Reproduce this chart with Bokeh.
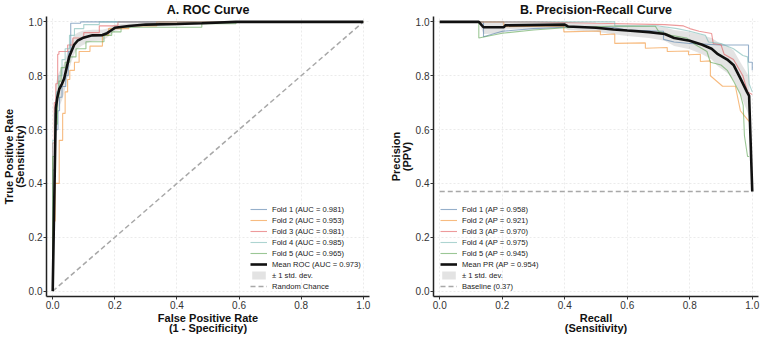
from bokeh.plotting import figure
from bokeh.layouts import row
from bokeh.models import (Legend, LegendItem, Range1d, FixedTicker, Title,
                          NumeralTickFormatter)
from bokeh.embed import file_html
from bokeh.resources import INLINE

# ---------------- ROC data (5-fold cross-validation) ----------------
roc_fold_labels = ["Fold 1 (AUC = 0.981)", "Fold 2 (AUC = 0.953)", "Fold 3 (AUC = 0.981)",
                   "Fold 4 (AUC = 0.985)", "Fold 5 (AUC = 0.965)"]

roc_fpr_1 = [0, 0, 0.008, 0.008, 0.017, 0.017, 0.022, 0.022, 0.03, 0.03, 0.042, 0.042, 0.05, 0.05,
             0.058, 0.058, 0.09, 0.09, 1.0]
roc_tpr_1 = [0, 0.45, 0.45, 0.60, 0.60, 0.67, 0.67, 0.72, 0.72, 0.76, 0.76, 0.80, 0.80, 0.89,
             0.89, 0.995, 0.995, 1.0, 1.0]

roc_fpr_2 = [0, 0, 0.008, 0.008, 0.021, 0.021, 0.032, 0.032, 0.04, 0.04, 0.048, 0.048, 0.055, 0.055,
             0.07, 0.07, 0.085, 0.085, 0.12, 0.12, 0.16, 0.16, 0.18, 0.18, 0.245, 0.245, 0.335, 0.335, 1.0]
roc_tpr_2 = [0, 0.26, 0.26, 0.40, 0.40, 0.56, 0.56, 0.66, 0.66, 0.74, 0.74, 0.786, 0.786, 0.82,
             0.82, 0.85, 0.85, 0.89, 0.89, 0.91, 0.91, 0.95, 0.95, 0.975, 0.975, 0.985, 0.985, 1.0, 1.0]

roc_fpr_3 = [0, 0, 0.005, 0.005, 0.01, 0.01, 0.016, 0.016, 0.02, 0.02, 0.048, 0.048, 0.065, 0.065,
             0.1, 0.1, 0.15, 0.15, 0.21, 0.21, 1.0]
roc_tpr_3 = [0, 0.55, 0.55, 0.70, 0.70, 0.77, 0.77, 0.88, 0.88, 0.89, 0.89, 0.914, 0.914, 0.94,
             0.94, 0.96, 0.96, 0.985, 0.985, 1.0, 1.0]

roc_fpr_4 = [0, 0, 0.006, 0.006, 0.012, 0.012, 0.02, 0.02, 0.03, 0.03, 0.04, 0.04, 0.054, 0.054,
             0.07, 0.07, 0.1, 0.1, 0.15, 0.15, 1.0]
roc_tpr_4 = [0, 0.56, 0.56, 0.66, 0.66, 0.74, 0.74, 0.80, 0.80, 0.86, 0.86, 0.90, 0.90, 0.95,
             0.95, 0.975, 0.975, 0.99, 0.99, 1.0, 1.0]

roc_fpr_5 = [0, 0, 0.008, 0.008, 0.015, 0.015, 0.02, 0.02, 0.027, 0.027, 0.04, 0.04, 0.055, 0.055,
             0.075, 0.075, 0.107, 0.107, 0.165, 0.165, 0.19, 0.19, 0.22, 0.22, 0.48, 0.48, 0.59, 0.59, 1.0]
roc_tpr_5 = [0, 0.50, 0.50, 0.62, 0.62, 0.72, 0.72, 0.78, 0.78, 0.83, 0.83, 0.85, 0.85, 0.87,
             0.87, 0.90, 0.90, 0.926, 0.926, 0.95, 0.95, 0.963, 0.963, 0.98, 0.98, 0.993, 0.993, 1.0, 1.0]

roc_mean_fpr = [0, 0.0101, 0.015, 0.021, 0.03, 0.037, 0.045, 0.053, 0.06, 0.069, 0.08, 0.096, 0.11,
                0.128, 0.16, 0.175, 0.19, 0.2, 0.245, 0.3, 0.4, 0.48, 0.59, 1.0]
roc_mean_tpr = [0, 0.68, 0.72, 0.75, 0.77, 0.79, 0.83, 0.87, 0.89, 0.915, 0.93, 0.94, 0.945,
                0.95, 0.951, 0.958, 0.97, 0.978, 0.985, 0.99, 0.992, 0.995, 1.0, 1.0]
roc_std_tpr = [0, 0.09, 0.075, 0.065, 0.06, 0.055, 0.05, 0.045, 0.04, 0.035, 0.03, 0.027, 0.024,
               0.021, 0.02, 0.017, 0.014, 0.012, 0.009, 0.007, 0.006, 0.005, 0.0, 0.0]
roc_mean_label = "Mean ROC (AUC = 0.973)"

# ---------------- Precision-Recall data ----------------
pr_fold_labels = ["Fold 1 (AP = 0.958)", "Fold 2 (AP = 0.921)", "Fold 3 (AP = 0.970)",
                  "Fold 4 (AP = 0.975)", "Fold 5 (AP = 0.945)"]

pr_rec_1 = [0, 0.14, 0.14, 0.2, 0.3, 0.4, 0.55, 0.6, 0.716, 0.716, 0.75, 0.8, 0.9, 0.988, 0.988, 1.0, 1.0]
pr_prec_1 = [1, 1, 0.945, 0.965, 0.975, 0.98, 0.98, 0.97, 0.965, 0.935, 0.925, 0.92, 0.914, 0.914,
             0.85, 0.85, 0.82]

pr_rec_2 = [0, 0.205, 0.205, 0.397, 0.397, 0.514, 0.514, 0.56, 0.56, 0.658, 0.658, 0.728, 0.728,
            0.796, 0.796, 0.834, 0.834, 0.866, 0.866, 0.905, 0.946, 0.962, 0.983, 0.99]
pr_prec_2 = [1, 1, 0.982, 0.985, 0.963, 0.966, 0.952, 0.955, 0.92, 0.922, 0.902, 0.905, 0.89,
             0.892, 0.878, 0.88, 0.853, 0.855, 0.80, 0.761, 0.761, 0.67, 0.64, 0.63]

pr_rec_3 = [0, 0.3, 0.5, 0.72, 0.78, 0.8, 0.83, 0.87, 0.875, 0.9, 0.91, 0.94, 0.97, 0.985, 1.0]
pr_prec_3 = [1, 1, 0.995, 0.99, 0.985, 0.975, 0.965, 0.957, 0.92, 0.915, 0.88, 0.86, 0.80, 0.74, 0.73]

pr_rec_4 = [0, 0.2, 0.4, 0.56, 0.56, 0.7, 0.76, 0.8, 0.85, 0.86, 0.9, 0.94, 0.97, 0.985, 0.99, 1.0]
pr_prec_4 = [1, 1, 1, 1, 0.985, 0.985, 0.975, 0.965, 0.95, 0.925, 0.92, 0.9, 0.875, 0.87, 0.77, 0.74]

pr_rec_5 = [0, 0.125, 0.125, 0.2, 0.3, 0.4, 0.45, 0.55, 0.69, 0.70, 0.74, 0.79, 0.82, 0.855, 0.866,
            0.9, 0.92, 0.94, 0.962, 0.971, 0.975, 0.985, 0.99]
pr_prec_5 = [1, 1, 0.94, 0.958, 0.97, 0.978, 0.98, 0.984, 0.984, 0.965, 0.95, 0.94, 0.914, 0.89, 0.85,
             0.84, 0.82, 0.78, 0.73, 0.69, 0.577, 0.50, 0.50]

pr_mean_rec = [0, 0.125, 0.14, 0.205, 0.21, 0.40, 0.41, 0.5, 0.556, 0.6, 0.67, 0.72, 0.75, 0.80,
               0.84, 0.87, 0.89, 0.92, 0.94, 0.962, 0.983, 0.99, 1.0]
pr_mean_prec = [1, 1, 0.98, 0.98, 0.987, 0.99, 0.983, 0.978, 0.972, 0.968, 0.962, 0.955, 0.94, 0.93,
                0.915, 0.90, 0.88, 0.86, 0.84, 0.79, 0.74, 0.725, 0.37]
pr_std_prec = [0, 0, 0.025, 0.022, 0.015, 0.012, 0.013, 0.015, 0.018, 0.02, 0.022, 0.025, 0.03, 0.032,
               0.035, 0.04, 0.045, 0.05, 0.055, 0.06, 0.07, 0.075, 0.02]
pr_mean_label = "Mean PR (AP = 0.954)"
baseline_prec = 0.37

axis_ticks = [0.0, 0.2, 0.4, 0.6, 0.8, 1.0]

FOLD_COLORS = ["#4E79A7", "#F28E2B", "#E15759", "#76B7B2", "#59A14F"]
FONT = "Liberation Sans"


def make_panel(title, xlabel, ylabel, border_left, border_right):
    p = figure(width=380, height=337, output_backend="svg", toolbar_location=None,
               x_range=Range1d(-0.02, 1.02), y_range=Range1d(-0.02, 1.02),
               min_border_left=border_left, min_border_right=border_right,
               min_border_top=14, min_border_bottom=40)
    p.outline_line_color = None
    p.background_fill_color = "white"
    p.title = Title(text=title, align="center", text_font=FONT, text_font_size="12.5px",
                    text_font_style="bold", text_color="#111111", standoff=0, offset=0,
                    text_line_height=1.0)
    for ax, lab in ((p.xaxis[0], xlabel), (p.yaxis[0], ylabel)):
        ax.ticker = FixedTicker(ticks=axis_ticks)
        ax.formatter = NumeralTickFormatter(format="0.0")
        ax.axis_label = lab
        ax.axis_label_text_font = FONT
        ax.axis_label_text_font_size = "11px"
        ax.axis_label_text_font_style = "bold"
        ax.axis_label_text_color = "#111111"
        ax.axis_label_text_line_height = 0.88
        ax.axis_label_standoff = 0
        ax.major_label_text_font = FONT
        ax.major_label_text_font_size = "10px"
        ax.major_label_text_color = "#333333"
        ax.major_label_standoff = 1
        ax.axis_line_color = "#222222"
        ax.axis_line_width = 1.5
        ax.major_tick_line_color = "#333333"
        ax.major_tick_in = 0
        ax.major_tick_out = 3
        ax.minor_tick_line_color = None
    p.grid.grid_line_color = "#e6e6e6"
    p.grid.grid_line_dash = "2 2"
    p.grid.grid_line_width = 0.8
    p.grid.ticker = FixedTicker(ticks=axis_ticks)
    return p


def band(xs, mean, std):
    upper = [min(m + s, 1.0) for m, s in zip(mean, std)]
    lower = [max(m - s, 0.0) for m, s in zip(mean, std)]
    return list(xs) + list(xs)[::-1], upper + lower[::-1]


def add_legend(p, items, loc):
    leg = Legend(items=items, location=loc, orientation="vertical",
                 label_text_font=FONT, label_text_font_size="7.6px", label_text_color="#222222",
                 glyph_width=17, glyph_height=10, label_height=10, label_standoff=5,
                 spacing=1, padding=0, margin=0, border_line_alpha=0,
                 background_fill_alpha=0)
    p.add_layout(leg)


# ---------------- Panel A: ROC ----------------
roc = make_panel("A. ROC Curve", "False Positive Rate\n(1 - Specificity)",
                 "True Positive Rate\n(Sensitivity)", 44, 11)
roc_folds = [(roc_fpr_1, roc_tpr_1), (roc_fpr_2, roc_tpr_2), (roc_fpr_3, roc_tpr_3),
             (roc_fpr_4, roc_tpr_4), (roc_fpr_5, roc_tpr_5)]
bx, by = band(roc_mean_fpr, roc_mean_tpr, roc_std_tpr)
roc_band = roc.patch(bx, by, fill_color="#9a9a9a", fill_alpha=0.28, line_color=None)
roc_items = []
for (fx, fy), col, lab in zip(roc_folds, FOLD_COLORS, roc_fold_labels):
    r = roc.line(fx, fy, line_color=col, line_alpha=0.6, line_width=1.1)
    roc_items.append(LegendItem(label=lab, renderers=[r]))
chance = roc.line([0, 1], [0, 1], line_color="#a8a8a8", line_width=1.5, line_dash="5 3")
roc_mean = roc.line(roc_mean_fpr, roc_mean_tpr, line_color="#111111", line_width=2.6)
roc_items += [LegendItem(label=roc_mean_label, renderers=[roc_mean]),
              LegendItem(label="\u00b1 1 std. dev.", renderers=[roc_band]),
              LegendItem(label="Random Chance", renderers=[chance])]
add_legend(roc, roc_items, (204, 5))

# ---------------- Panel B: Precision-Recall ----------------
pr = make_panel("B. Precision-Recall Curve", "Recall\n(Sensitivity)",
                "Precision\n(PPV)", 53, 2)
pr_folds = [(pr_rec_1, pr_prec_1), (pr_rec_2, pr_prec_2), (pr_rec_3, pr_prec_3),
            (pr_rec_4, pr_prec_4), (pr_rec_5, pr_prec_5)]
bx, by = band(pr_mean_rec, pr_mean_prec, pr_std_prec)
pr_band = pr.patch(bx, by, fill_color="#9a9a9a", fill_alpha=0.28, line_color=None)
pr_items = []
for (fx, fy), col, lab in zip(pr_folds, FOLD_COLORS, pr_fold_labels):
    r = pr.line(fx, fy, line_color=col, line_alpha=0.6, line_width=1.1)
    pr_items.append(LegendItem(label=lab, renderers=[r]))
base = pr.line([0, 1], [baseline_prec, baseline_prec], line_color="#a8a8a8", line_width=1.5,
               line_dash="5 3")
pr_mean = pr.line(pr_mean_rec, pr_mean_prec, line_color="#111111", line_width=2.6)
pr_items += [LegendItem(label=pr_mean_label, renderers=[pr_mean]),
             LegendItem(label="\u00b1 1 std. dev.", renderers=[pr_band]),
             LegendItem(label="Baseline (0.37)", renderers=[base])]
add_legend(pr, pr_items, (7, 5))

layout = row(roc, pr, spacing=0)
open("out.html", "w").write(file_html(layout, INLINE))
